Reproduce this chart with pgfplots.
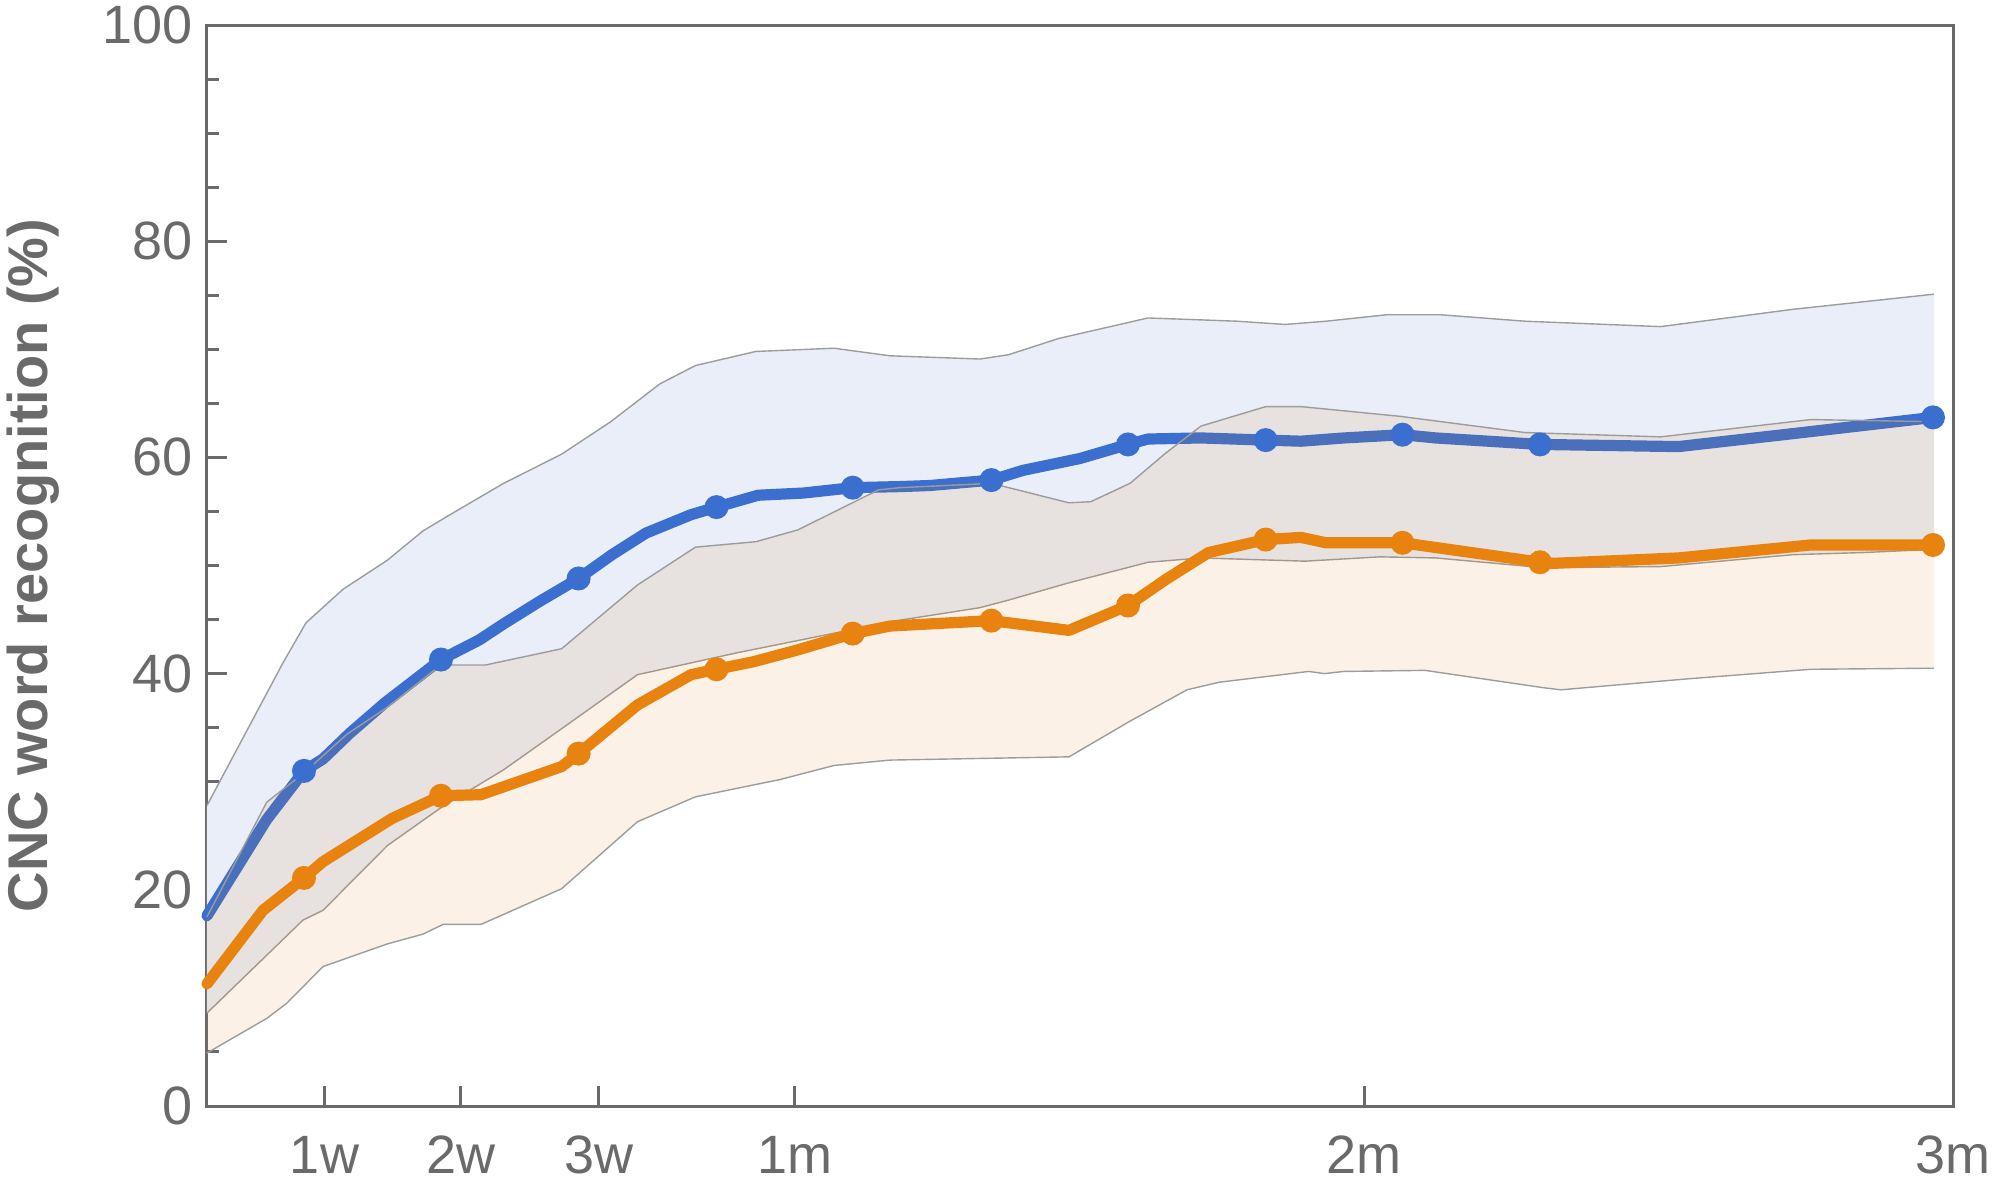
\documentclass[border=0pt]{standalone}
\usepackage{fontspec}
\setmainfont{Liberation Sans}
\usepackage{pgfplots}
\pgfplotsset{compat=1.18}
\definecolor{axisgray}{HTML}{6A6A6A}
\definecolor{bandline}{HTML}{9C9C9C}
\definecolor{blueline}{HTML}{3A6FD0}
\definecolor{bluefill}{HTML}{E9EEF8}
\definecolor{orangeline}{HTML}{E8830F}
\definecolor{orangebase}{RGB}{215,120,10}
\begin{document}
\begin{tikzpicture}
\begin{axis}[
  scale only axis, width=436.5pt, height=270.25pt,
  xmin=207, xmax=1953, ymin=0, ymax=100,
  axis line style={draw=axisgray, line width=0.75pt},
  xtick={324.5,461,599,795,1364,1953},
  xticklabels={1w,2w,3w,1m,2m,3m},
  ytick={0,20,40,60,80,100},
  minor ytick={5,10,15,25,30,35,45,50,55,65,70,75,85,90,95},
  tick align=inside, tick pos=left,
  major tick length=5pt, minor tick length=3pt,
  tick style={draw=axisgray, line width=0.75pt},
  minor tick style={draw=axisgray, line width=0.75pt},
  ticklabel style={font=\fontsize{13.5}{13.5}\selectfont, text=axisgray},
  xticklabel style={yshift=-4pt},
  /pgf/number format/assume math mode=true,
  ylabel={CNC word recognition (\%)},
  every axis y label/.style={at={(axis description cs:-0.0997,0.5)}, rotate=90, anchor=center,
     font=\bfseries\fontsize{14}{14}\selectfont, text=axisgray},
  clip=false,
]
% blue band
\addplot[draw=none, fill=bluefill] coordinates {
(207,27.8)(283,41.0)(306,44.7)(343,47.8)(387.5,50.5)(423,53.2)(450,54.7)(503.6,57.6)(561.6,60.3)(610.7,63.3)(659.8,66.8)(695.5,68.5)(755.8,69.8)(834,70.1)(890,69.4)(980,69.1)(1008.6,69.5)(1058.6,71.0)(1148,72.9)(1237,72.6)(1285,72.3)(1326,72.6)(1387,73.2)(1440,73.2)(1525,72.6)(1660.7,72.1)(1793,73.7)(1934,75.1)
(1934,51.5)(1864,51.2)(1793,51.0)(1660.7,49.9)(1543,49.8)(1435.7,50.7)(1380,50.8)(1305,50.4)(1201,50.7)(1148,50.3)(1069,48.4)(1008.6,46.8)(980,46.1)(890,44.8)(843,43.9)(735.7,41.9)(637.5,39.9)(561.6,34.9)(503.6,31.1)(441,27.6)(387.5,24.1)(323,18.1)(303,17.2)(207,8.6)
};
\addplot[bandline, line width=0.35pt] coordinates {
(207,27.8)(283,41.0)(306,44.7)(343,47.8)(387.5,50.5)(423,53.2)(450,54.7)(503.6,57.6)(561.6,60.3)(610.7,63.3)(659.8,66.8)(695.5,68.5)(755.8,69.8)(834,70.1)(890,69.4)(980,69.1)(1008.6,69.5)(1058.6,71.0)(1148,72.9)(1237,72.6)(1285,72.3)(1326,72.6)(1387,73.2)(1440,73.2)(1525,72.6)(1660.7,72.1)(1793,73.7)(1934,75.1)
};
\addplot[bandline, line width=0.35pt] coordinates {
(207,8.6)(303,17.2)(323,18.1)(387.5,24.1)(441,27.6)(503.6,31.1)(561.6,34.9)(637.5,39.9)(735.7,41.9)(843,43.9)(890,44.8)(980,46.1)(1008.6,46.8)(1069,48.4)(1148,50.3)(1201,50.7)(1305,50.4)(1380,50.8)(1435.7,50.7)(1543,49.8)(1660.7,49.9)(1793,51.0)(1864,51.2)(1934,51.5)
};
% blue line
\addplot[blueline, line width=2.8pt, line join=round, line cap=round] coordinates {
(207,17.6)(266.7,26.5)(304,31.0)(323,32.1)(350,34.5)(385,37.3)(420,39.8)(441,41.3)(479,43.1)(503.6,44.6)(540,46.7)(578.6,48.8)(612,51.0)(646,53.0)(691,54.7)(716.5,55.4)(758,56.5)(803,56.7)(852.7,57.2)(900,57.3)(930,57.4)(991.4,57.9)(1023,58.8)(1080,59.9)(1128,61.2)(1148,61.7)(1201,61.8)(1265.7,61.6)(1301,61.5)(1344,61.8)(1402.5,62.1)(1435.7,61.8)(1540,61.2)(1678.6,61.0)(1793,62.2)(1933,63.7)
};
\addplot[only marks, mark=*, mark size=2.8pt, mark options={draw=blueline, fill=blueline}] coordinates {
(304,31.0)(441,41.3)(578.6,48.8)(716.5,55.4)(852.7,57.2)(991.4,57.9)(1128,61.2)(1265.7,61.6)(1402.5,62.1)(1540,61.2)(1933,63.7)
};
% orange band
\addplot[draw=none, fill=orangebase, fill opacity=0.1] coordinates {
(207,17.5)(266.7,28.1)(305,30.9)(347,34.4)(387.5,36.9)(441,40.8)(485.7,40.8)(561.6,42.3)(637.5,48.2)(695.5,51.7)(755.8,52.2)(798,53.3)(878.6,57.0)(900,57.2)(991.4,57.6)(1069,55.8)(1090.7,55.9)(1130,57.6)(1165.7,60.4)(1201,62.9)(1265.7,64.7)(1301,64.7)(1400,63.8)(1525,62.3)(1660.7,61.9)(1810.7,63.5)(1934,63.3)
(1934,40.5)(1810.7,40.4)(1685.7,39.5)(1560.7,38.5)(1543,38.7)(1425,40.3)(1344,40.2)(1324.6,40.0)(1308.6,40.2)(1219,39.2)(1187,38.5)(1130,35.6)(1069,32.3)(890,32.0)(834,31.5)(780,30.2)(695.5,28.6)(637.5,26.3)(561.6,20.1)(481,16.8)(443,16.8)(423,15.9)(387.5,15.0)(323,12.9)(286.7,9.5)(266.7,8.1)(220,5.6)(207,4.9)
};
\addplot[bandline, line width=0.35pt] coordinates {
(207,17.5)(266.7,28.1)(305,30.9)(347,34.4)(387.5,36.9)(441,40.8)(485.7,40.8)(561.6,42.3)(637.5,48.2)(695.5,51.7)(755.8,52.2)(798,53.3)(878.6,57.0)(900,57.2)(991.4,57.6)(1069,55.8)(1090.7,55.9)(1130,57.6)(1165.7,60.4)(1201,62.9)(1265.7,64.7)(1301,64.7)(1400,63.8)(1525,62.3)(1660.7,61.9)(1810.7,63.5)(1934,63.3)
};
\addplot[bandline, line width=0.35pt] coordinates {
(207,4.9)(220,5.6)(266.7,8.1)(286.7,9.5)(323,12.9)(387.5,15.0)(423,15.9)(443,16.8)(481,16.8)(561.6,20.1)(637.5,26.3)(695.5,28.6)(780,30.2)(834,31.5)(890,32.0)(1069,32.3)(1130,35.6)(1187,38.5)(1219,39.2)(1308.6,40.2)(1324.6,40.0)(1344,40.2)(1425,40.3)(1543,38.7)(1560.7,38.5)(1685.7,39.5)(1810.7,40.4)(1934,40.5)
};
% orange line
\addplot[orangeline, line width=2.8pt, line join=round, line cap=round] coordinates {
(207,11.3)(263,18.1)(304,21.1)(323,22.6)(392,26.6)(441,28.7)(481,28.8)(561.6,31.4)(578.6,32.6)(637.5,37.1)(691,39.9)(716.5,40.4)(753.6,41.1)(798,42.2)(852.7,43.7)(890,44.4)(991.4,44.9)(1069,44.0)(1128,46.3)(1165.7,48.7)(1208.6,51.2)(1265.7,52.4)(1301,52.6)(1326,52.1)(1402.5,52.1)(1540,50.3)(1553.6,50.2)(1678.6,50.7)(1810.7,51.9)(1933,51.9)
};
\addplot[only marks, mark=*, mark size=2.8pt, mark options={draw=orangeline, fill=orangeline}] coordinates {
(304,21.1)(441,28.7)(578.6,32.6)(716.5,40.4)(852.7,43.7)(991.4,44.9)(1128,46.3)(1265.7,52.4)(1402.5,52.1)(1540,50.3)(1933,51.9)
};
\end{axis}
\pgfresetboundingbox
\path ([shift={(-51.75pt,-19pt)}]current axis.south west) rectangle ([shift={(10.5pt,6.25pt)}]current axis.north east);
\end{tikzpicture}
\end{document}
